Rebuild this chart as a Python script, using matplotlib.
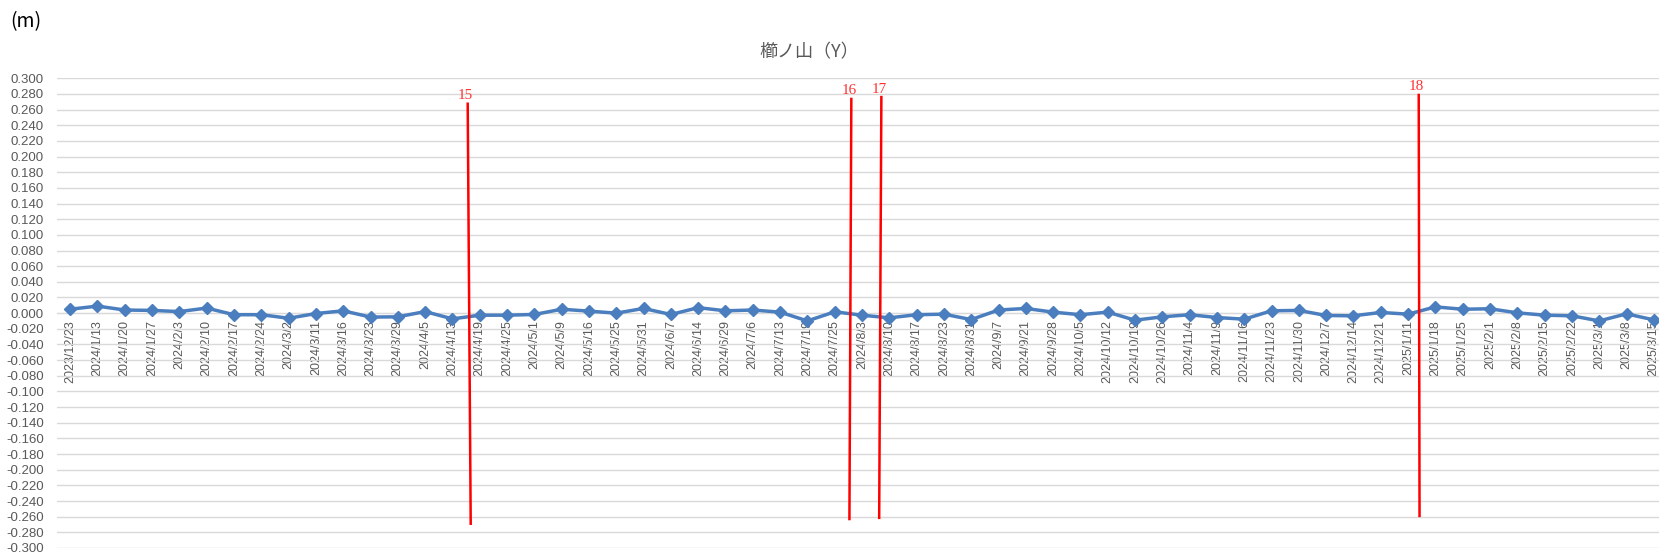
import matplotlib
matplotlib.use("Agg")
import matplotlib.pyplot as plt
import numpy as np

# 観測日
dates = [
    "2023/12/23", "2024/1/13", "2024/1/20", "2024/1/27", "2024/2/3", "2024/2/10",
    "2024/2/17", "2024/2/24", "2024/3/2", "2024/3/11", "2024/3/16", "2024/3/23",
    "2024/3/29", "2024/4/5", "2024/4/13", "2024/4/19", "2024/4/25", "2024/5/1",
    "2024/5/9", "2024/5/16", "2024/5/25", "2024/5/31", "2024/6/7", "2024/6/14",
    "2024/6/29", "2024/7/6", "2024/7/13", "2024/7/19", "2024/7/25", "2024/8/3",
    "2024/8/10", "2024/8/17", "2024/8/23", "2024/8/31", "2024/9/7", "2024/9/21",
    "2024/9/28", "2024/10/5", "2024/10/12", "2024/10/19", "2024/10/26", "2024/11/4",
    "2024/11/9", "2024/11/16", "2024/11/23", "2024/11/30", "2024/12/7", "2024/12/14",
    "2024/12/21", "2025/1/11", "2025/1/18", "2025/1/25", "2025/2/1", "2025/2/8",
    "2025/2/15", "2025/2/22", "2025/3/1", "2025/3/8", "2025/3/15",
]

# 変位 Y (m)
disp_y = [
    0.005, 0.009, 0.004, 0.0035, 0.002, 0.0065,
    -0.002, -0.002, -0.0065, -0.0005, 0.003, -0.005,
    -0.0047, 0.002, -0.0073, -0.0026, -0.0026, -0.0017,
    0.005, 0.0026, 0.0, 0.006, -0.0017, 0.007,
    0.003, 0.004, 0.0013, -0.0099, 0.0017, -0.0026,
    -0.006, -0.002, -0.0013, -0.0082, 0.004, 0.006,
    0.0013, -0.002, 0.0013, -0.009, -0.0047, -0.002,
    -0.0056, -0.0077, 0.003, 0.0035, -0.003, -0.0034,
    0.0009, -0.0013, 0.008, 0.005, 0.0056, 0.0004,
    -0.0026, -0.0034, -0.0099, -0.0009, -0.0086,
]

# イベント線（番号、カテゴリ位置 上/下、値 上/下）
event_labels = ["15", "16", "17", "18"]
event_x_top = [14.56, 28.61, 29.71, 49.39]
event_x_bot = [14.67, 28.54, 29.63, 49.42]
event_y_top = [0.2675, 0.2736, 0.276, 0.2787]
event_y_bot = [-0.269, -0.263, -0.2615, -0.259]

W, H = 1659, 555
fig = plt.figure(figsize=(W / 100, H / 100), dpi=100)
ax = fig.add_axes([56.5 / W, 1 - 548 / H, 1 - 56.5 / W, (548 - 78.3) / H])

# 横軸は 0 の位置
for s in ["top", "right", "left"]:
    ax.spines[s].set_visible(False)
ax.spines["bottom"].set_position(("data", 0))
ax.spines["bottom"].set_color("#D9D9D9")

x = np.arange(len(dates))
ax.plot(x, disp_y, color="#4A7EBE", linewidth=2.5, marker="D", markersize=6.5,
        zorder=3)

for lab, xt, xb, yt, yb in zip(event_labels, event_x_top, event_x_bot,
                               event_y_top, event_y_bot):
    ax.plot([xt, xb], [yt, yb], color="#FF0000", linewidth=1.8, zorder=4)
    ax.text(xt - 0.08, yt + 0.002, lab, color="#FF3333", fontsize=11,
            family="Liberation Serif", ha="center", va="bottom")

ax.set_xlim(-0.5, len(dates) - 1 + 0.19)
ax.set_ylim(-0.3, 0.3)
ax.set_yticks(np.arange(-0.3, 0.3001, 0.02))
ax.yaxis.set_major_formatter(plt.FuncFormatter(lambda v, p: f"{v:.3f}"))
ax.set_xticks(x)
ax.set_xticklabels(dates, rotation=90, fontsize=9, color="#595959",
                   family="Liberation Sans", va="top")
for t in ax.get_yticklabels():
    t.set_family("Liberation Sans")
ax.tick_params(axis="y", length=0, labelsize=9.5, labelcolor="#595959", pad=9)
ax.tick_params(axis="x", length=0, pad=5)
ax.grid(axis="y", color="#D9D9D9", linewidth=1)
ax.set_axisbelow(True)

fig.text(809 / W, 1 - 52 / H, "櫛ノ山（Y）", ha="center", va="center",
         fontsize=13, color="#595959", family=["Noto Sans CJK JP", "DejaVu Sans"])
fig.text(10 / W, 1 - 22 / H, "(m)", ha="left", va="center", fontsize=14,
         color="black", family=["Noto Sans CJK JP", "DejaVu Sans"])

fig.savefig("out.png", dpi=100)
